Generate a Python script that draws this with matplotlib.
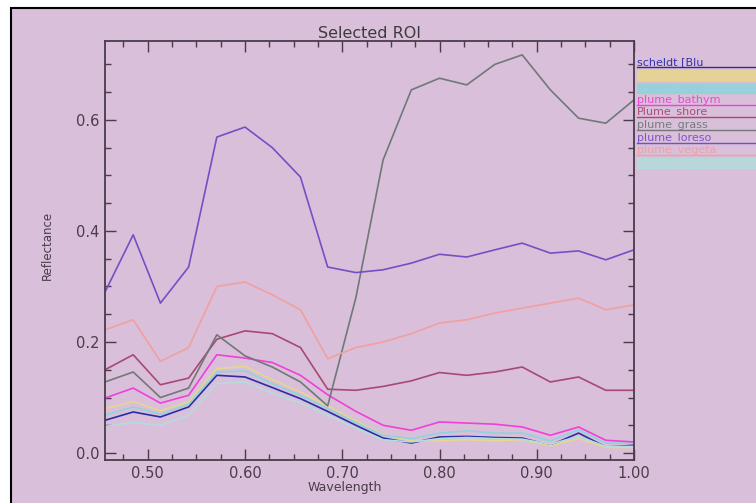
import numpy as np
import matplotlib
matplotlib.use('Agg')
import matplotlib.pyplot as plt
from matplotlib.lines import Line2D
from matplotlib.patches import Rectangle
from matplotlib.ticker import MultipleLocator, FormatStrFormatter

W, H = 756, 503

waves = [0.456, 0.485, 0.513, 0.542, 0.571, 0.600, 0.628, 0.657, 0.685, 0.714,
         0.742, 0.771, 0.800, 0.828, 0.857, 0.885, 0.914, 0.943, 0.971, 1.000]

scheldt = [0.059, 0.074, 0.065, 0.083, 0.140, 0.137, 0.118, 0.098, 0.075, 0.050,
           0.027, 0.018, 0.029, 0.030, 0.028, 0.027, 0.014, 0.036, 0.011, 0.014]
yellow = [0.080, 0.093, 0.076, 0.092, 0.152, 0.156, 0.132, 0.110, 0.085, 0.058,
          0.033, 0.022, 0.022, 0.024, 0.022, 0.024, 0.013, 0.026, 0.010, 0.010]
cyan = [0.068, 0.083, 0.070, 0.088, 0.146, 0.148, 0.125, 0.104, 0.080, 0.055,
        0.032, 0.026, 0.036, 0.040, 0.036, 0.036, 0.022, 0.042, 0.018, 0.018]
bathym = [0.099, 0.117, 0.090, 0.104, 0.177, 0.171, 0.163, 0.140, 0.105, 0.075,
          0.050, 0.041, 0.056, 0.054, 0.052, 0.047, 0.032, 0.047, 0.023, 0.020]
shore = [0.150, 0.177, 0.123, 0.135, 0.205, 0.220, 0.215, 0.190, 0.115, 0.113,
         0.120, 0.130, 0.145, 0.140, 0.146, 0.155, 0.128, 0.137, 0.113, 0.113]
grass = [0.128, 0.146, 0.100, 0.117, 0.213, 0.175, 0.155, 0.128, 0.085, 0.280,
         0.528, 0.654, 0.675, 0.663, 0.700, 0.717, 0.654, 0.603, 0.594, 0.636]
loreso = [0.290, 0.393, 0.270, 0.335, 0.569, 0.587, 0.550, 0.497, 0.335, 0.325,
          0.330, 0.342, 0.358, 0.353, 0.366, 0.378, 0.360, 0.364, 0.348, 0.366]
vegeta = [0.222, 0.240, 0.165, 0.190, 0.300, 0.308, 0.285, 0.258, 0.170, 0.190,
          0.200, 0.215, 0.234, 0.240, 0.252, 0.261, 0.270, 0.279, 0.258, 0.267]
lightcyan = [0.048, 0.055, 0.050, 0.068, 0.125, 0.128, 0.108, 0.090, 0.068, 0.045,
             0.024, 0.020, 0.026, 0.028, 0.026, 0.025, 0.016, 0.030, 0.012, 0.012]

series = [scheldt, yellow, cyan, bathym, shore, grass, loreso, vegeta, lightcyan]
# only the part of each label that fits inside the picture is shown
labels = ['scheldt [Blu', 'plume_sand', 'plume_water', 'plume_bathym', 'Plume_shore',
          'plume_grass', 'plume_loreso', 'plume_vegeta', 'plume_mud']
colors = ['#2c2ca8', '#e6d68e', '#8ed4dc', '#f040d8', '#a84874', '#707878',
          '#7450c4', '#f0a0a0', '#b4dcdc']
faint = ['#e6d68e', '#8ed4dc', '#b4dcdc']

bg = '#d9bfd9'
ink = '#4a3c4a'

fig = plt.figure(figsize=(W / 100, H / 100), dpi=100, facecolor='white')
fig.add_artist(Rectangle((11 / W, -0.1), 1.2, 1 - 8 / H + 0.1, transform=fig.transFigure,
                         facecolor=bg, edgecolor='black', lw=1.5, zorder=-10))

ax = fig.add_axes([105 / W, 1 - 460 / H, (634 - 105) / W, (460 - 41) / H])
ax.patch.set_alpha(0)

for vals, c in zip(series, colors):
    ax.plot(waves, vals, color=c, lw=1.2)

ax.set_xlim(0.456, 1.0)
ax.set_ylim(-0.0125, 0.742)
ax.xaxis.set_major_locator(MultipleLocator(0.1))
ax.xaxis.set_minor_locator(MultipleLocator(0.025))
ax.yaxis.set_major_locator(MultipleLocator(0.2))
ax.yaxis.set_minor_locator(MultipleLocator(0.05))
ax.xaxis.set_major_formatter(FormatStrFormatter('%.2f'))
ax.yaxis.set_major_formatter(FormatStrFormatter('%.1f'))
ax.tick_params(which='both', direction='in', top=True, right=True, colors=ink,
               labelsize=10.5, width=1.0)
ax.tick_params(which='major', length=8, pad=4)
ax.tick_params(which='minor', length=4.5)
for s in ax.spines.values():
    s.set_color(ink)
    s.set_linewidth(1.3)

ax.set_title('Selected ROI', fontsize=11.5, color='#3c3c3c', pad=2)
fig.text(47 / W, 1 - 245 / H, 'Reflectance', rotation=90, ha='center', va='center',
         fontsize=8.5, color=ink)
fig.text(345 / W, 1 - 487 / H, 'Wavelength', ha='center', va='center',
         fontsize=9, color=ink)

# legend rows at the right edge
row_y = [62, 75, 88, 100, 112, 125, 138, 150, 163]
for lab, c, y in zip(labels, colors, row_y):
    if c in faint:
        fig.add_artist(Rectangle((637 / W, 1 - (y + 5) / H), 0.2, 10 / H,
                                 transform=fig.transFigure, facecolor=c,
                                 edgecolor='none', alpha=0.85))
    fig.text(637 / W, 1 - y / H, lab, ha='left', va='center', fontsize=8,
             color=c, alpha=0.5 if c in faint else 0.95)
    fig.add_artist(Line2D([637 / W, 1.0], [1 - (y + 5) / H] * 2,
                          transform=fig.transFigure, color=c, lw=1.0))

fig.savefig('out.png', dpi=100, facecolor='white')
